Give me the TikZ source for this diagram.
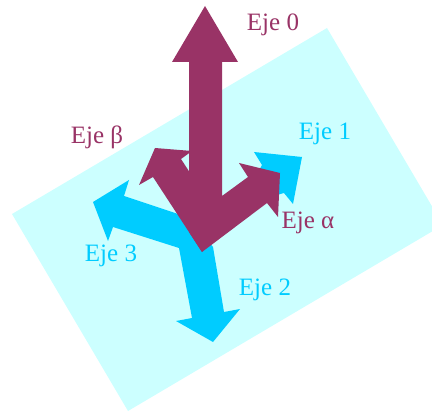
\documentclass[tikz,border=0pt]{standalone}
\usepackage{fontspec}
\setmainfont{Liberation Serif}
\definecolor{plum}{HTML}{993366}
\definecolor{sky}{HTML}{00CCFF}
\definecolor{pale}{HTML}{CCFFFF}
\tikzset{
 plumlabel/.style={text=plum,font=\fontsize{25}{30}\selectfont,inner sep=0pt},
 skylabel/.style={text=sky,font=\fontsize{25}{30}\selectfont,inner sep=0pt}
}
\begin{document}
\begin{tikzpicture}[x=1pt,y=-1pt]
 \useasboundingbox(0,0)rectangle(432,412);
 \clip(0,0)rectangle(432,412);
 \fill[pale](12,214)--(327,28)--(443,225)--(128,411)--cycle;
 \fill[sky](240,205)--(262,165)--(254,152)--(302,157)--(293,204)--(284,193)--cycle;
 \fill[sky](190,218)--(124,196)--(129,180)--(93,202)--(108,241)--(113,227)--(179,248)--(192,318)--(176,321)--(213,342)--(240,309)--(224,312)--(213,247)--cycle;
 \fill[plum](202,252)--(153,177)--(139,185)--(155,148)--(192,151)--(181,159)--(222,222)--cycle;
 \fill[plum](205,6)--(238,62)--(222,62)--(222,196)--(248,177)--(239,163)--(280,173)--(278,217)--(267,203)--(202,252)--(189,232)--(189,62)--(172,62)--cycle;
 \node[plumlabel](eje0)at(273,25){Eje 0};
 \node[skylabel](eje1)at(325,134){Eje 1};
 \node[skylabel](eje2)at(265,290){Eje 2};
 \node[skylabel](eje3)at(111,256){Eje 3};
 \node[plumlabel](ejebeta)at(97,137){Eje β};
 \node[plumlabel](ejealpha)at(308,223){Eje α};
\end{tikzpicture}
\end{document}
